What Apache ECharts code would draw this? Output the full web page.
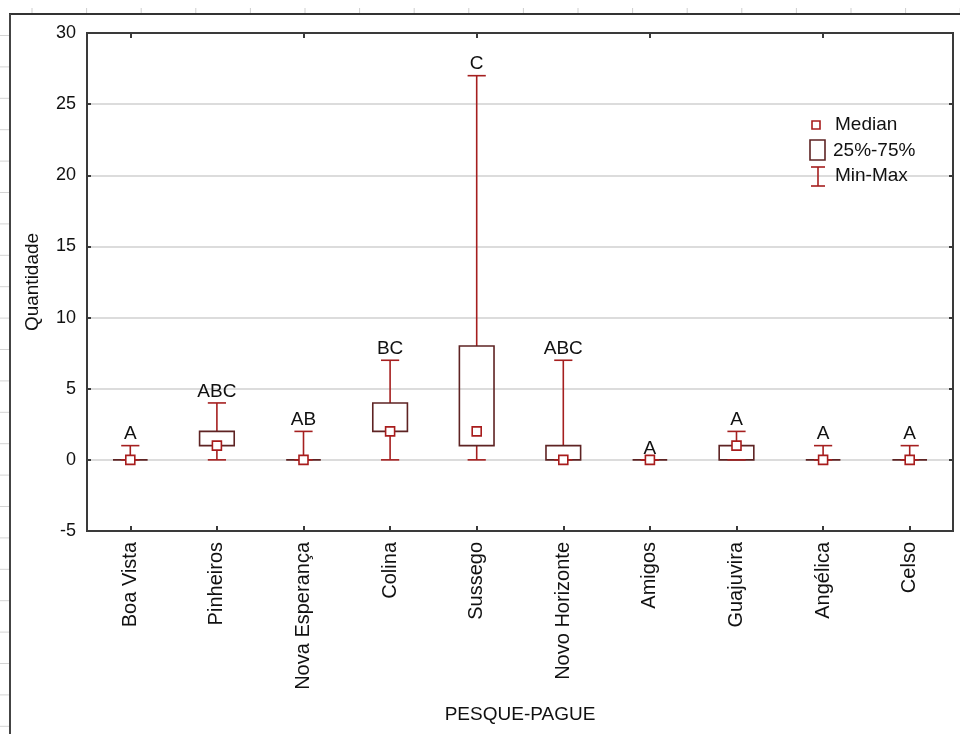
<!DOCTYPE html>
<html>
<head>
<meta charset="utf-8">
<script src="https://cdn.jsdelivr.net/npm/echarts@6/dist/echarts.min.js"></script>
<style>
html,body{margin:0;padding:0;background:#fff;}
#chart{width:960px;height:734px;}
</style>
</head>
<body>
<div id="chart"></div>
<script>
// ---- data ----
const categories = ['Boa Vista','Pinheiros','Nova Esperança','Colina','Sussego','Novo Horizonte','Amigos','Guajuvira','Angélica','Celso'];
const minValues    = [0, 0, 0, 0, 0, 0, 0, 0, 0, 0];
const q1Values     = [0, 1, 0, 2, 1, 0, 0, 0, 0, 0];
const medianValues = [0, 1, 0, 2, 2, 0, 0, 1, 0, 0];
const q3Values     = [0, 2, 0, 4, 8, 1, 0, 1, 0, 0];
const maxValues    = [1, 4, 2, 7, 27, 7, 0, 2, 1, 1];
const groupLabels  = ['A','ABC','AB','BC','C','ABC','A','A','A','A'];
const yTicks = { min: -5, max: 30, interval: 5 };

// ---- styles ----
const WHISKER = '#a51f1f';
const BOXCOL = '#5e2323';
const MEDCOL = '#a81c1c';
const AXISCOL = '#3a3a3a';
const FONT = '"Liberation Sans", Arial, sans-serif';

const rows = categories.map((c, i) => [i, minValues[i], q1Values[i], medianValues[i], q3Values[i], maxValues[i], groupLabels[i]]);

function renderItem(params, api) {
  const i = api.value(0);
  const x = api.coord([i, 0])[0];
  const yMin = api.coord([i, api.value(1)])[1];
  const yQ1 = api.coord([i, api.value(2)])[1];
  const yMed = api.coord([i, api.value(3)])[1];
  const yQ3 = api.coord([i, api.value(4)])[1];
  const yMax = api.coord([i, api.value(5)])[1];
  const bandW = api.size([1, 0])[0];
  const boxW = bandW * 0.40;
  const capW = bandW * 0.21;
  const children = [];
  const lineStyle = { stroke: WHISKER, lineWidth: 1.6, fill: null };
  if (yMax < yQ3) children.push({ type: 'line', shape: { x1: x, y1: yQ3, x2: x, y2: yMax }, style: lineStyle });
  if (yMin > yQ1) children.push({ type: 'line', shape: { x1: x, y1: yQ1, x2: x, y2: yMin }, style: lineStyle });
  if (Math.abs(yQ1 - yQ3) < 0.5) {
    children.push({ type: 'line', shape: { x1: x - boxW / 2, y1: yQ1, x2: x + boxW / 2, y2: yQ1 }, style: { stroke: BOXCOL, lineWidth: 1.6 } });
  } else {
    children.push({ type: 'rect', shape: { x: x - boxW / 2, y: yQ3, width: boxW, height: yQ1 - yQ3 }, style: { stroke: BOXCOL, lineWidth: 1.6, fill: 'rgba(0,0,0,0)' } });
  }
  children.push({ type: 'line', shape: { x1: x - capW / 2, y1: yMax, x2: x + capW / 2, y2: yMax }, style: lineStyle });
  children.push({ type: 'line', shape: { x1: x - capW / 2, y1: yMin, x2: x + capW / 2, y2: yMin }, style: lineStyle });
  const s = 9;
  children.push({ type: 'rect', shape: { x: x - s / 2, y: yMed - s / 2, width: s, height: s }, style: { stroke: MEDCOL, lineWidth: 1.6, fill: '#fff' } });
  children.push({ type: 'text', style: { text: api.value(6), x: x, y: yMax - 2, textAlign: 'center', textVerticalAlign: 'bottom', fill: '#111', font: '19px ' + FONT } });
  return { type: 'group', children: children };
}

const bgGraphics = [];
for (let k = 0; k < 23; k++) {
  const y = 35.5 + 31.4 * k;
  bgGraphics.push({ type: 'line', z: -10, shape: { x1: 0, y1: y, x2: 9, y2: y }, style: { stroke: '#d4d4d4', lineWidth: 1 } });
}
for (let k = 0; k < 18; k++) {
  const x = 32 + 54.6 * k;
  bgGraphics.push({ type: 'line', z: -10, shape: { x1: x, y1: 8, x2: x, y2: 13 }, style: { stroke: '#cfcfcf', lineWidth: 1 } });
}
bgGraphics.push({ type: 'line', shape: { x1: 9, y1: 14, x2: 960, y2: 14 }, style: { stroke: '#333', lineWidth: 2 } });
bgGraphics.push({ type: 'line', shape: { x1: 10, y1: 14, x2: 10, y2: 734 }, style: { stroke: '#444', lineWidth: 2 } });
// legend
const L = [];
L.push({ type: 'rect', shape: { x: 812, y: 121, width: 8, height: 8 }, style: { stroke: MEDCOL, lineWidth: 1.6, fill: '#fff' } });
L.push({ type: 'text', style: { text: 'Median', x: 835, y: 125, textVerticalAlign: 'middle', font: '19px ' + FONT, fill: '#111' } });
L.push({ type: 'rect', shape: { x: 810, y: 140, width: 15, height: 20 }, style: { stroke: BOXCOL, lineWidth: 1.6, fill: '#fff' } });
L.push({ type: 'text', style: { text: '25%-75%', x: 833, y: 151, textVerticalAlign: 'middle', font: '19px ' + FONT, fill: '#111' } });
L.push({ type: 'line', shape: { x1: 818, y1: 167, x2: 818, y2: 186 }, style: { stroke: WHISKER, lineWidth: 1.6 } });
L.push({ type: 'line', shape: { x1: 811, y1: 167, x2: 825, y2: 167 }, style: { stroke: WHISKER, lineWidth: 1.6 } });
L.push({ type: 'line', shape: { x1: 811, y1: 186, x2: 825, y2: 186 }, style: { stroke: WHISKER, lineWidth: 1.6 } });
L.push({ type: 'text', style: { text: 'Min-Max', x: 835, y: 176, textVerticalAlign: 'middle', font: '19px ' + FONT, fill: '#111' } });
L.forEach(g => { g.z = 100; bgGraphics.push(g); });

const chart = echarts.init(document.getElementById('chart'), null, { renderer: 'canvas' });
chart.setOption({
  animation: false,
  backgroundColor: '#fff',
  textStyle: { fontFamily: FONT },
  grid: { left: 87, top: 33, right: 7, bottom: 203, show: true, borderColor: AXISCOL, borderWidth: 2, containLabel: false },
  graphic: bgGraphics,
  xAxis: [{
    type: 'category', data: categories, position: 'bottom',
    boundaryGap: true,
    name: 'PESQUE-PAGUE', nameLocation: 'middle', nameGap: 174,
    nameTextStyle: { fontSize: 19, color: '#111', fontFamily: FONT },
    axisLine: { show: true, onZero: false, lineStyle: { color: AXISCOL, width: 2 } },
    axisTick: { show: true, inside: true, alignWithLabel: true, length: 5, lineStyle: { color: AXISCOL, width: 2 } },
    axisLabel: { rotate: 90, margin: 11, fontSize: 20, color: '#111', fontFamily: FONT, interval: 0 },
    splitLine: { show: false }
  }, {
    type: 'category', data: categories, position: 'top',
    boundaryGap: true,
    axisLine: { show: true, onZero: false, lineStyle: { color: AXISCOL, width: 2 } },
    axisTick: { show: true, inside: true, alignWithLabel: true, length: 5, lineStyle: { color: AXISCOL, width: 2 } },
    axisLabel: { show: false },
    splitLine: { show: false }
  }],
  yAxis: [{
    type: 'value', min: yTicks.min, max: yTicks.max, interval: yTicks.interval, position: 'left',
    name: 'Quantidade', nameLocation: 'middle', nameGap: 45, nameRotate: 90,
    nameTextStyle: { fontSize: 19, color: '#111', fontFamily: FONT },
    axisLine: { show: true, onZero: false, lineStyle: { color: AXISCOL, width: 2 } },
    axisTick: { show: true, inside: true, length: 4, lineStyle: { color: AXISCOL, width: 2 } },
    axisLabel: { margin: 11, fontSize: 18, color: '#111', fontFamily: FONT },
    splitLine: { show: true, lineStyle: { color: '#dcdcdc', width: 2 } }
  }, {
    type: 'value', min: yTicks.min, max: yTicks.max, interval: yTicks.interval, position: 'right',
    axisLine: { show: true, onZero: false, lineStyle: { color: AXISCOL, width: 2 } },
    axisTick: { show: true, inside: true, length: 4, lineStyle: { color: AXISCOL, width: 2 } },
    axisLabel: { show: false },
    splitLine: { show: false }
  }],
  series: [{
    type: 'custom',
    name: 'Box',
    xAxisIndex: 0, yAxisIndex: 0,
    renderItem: renderItem,
    encode: { x: 0, y: [1, 2, 3, 4, 5] },
    data: rows,
    z: 5
  }]
});
</script>
</body>
</html>
